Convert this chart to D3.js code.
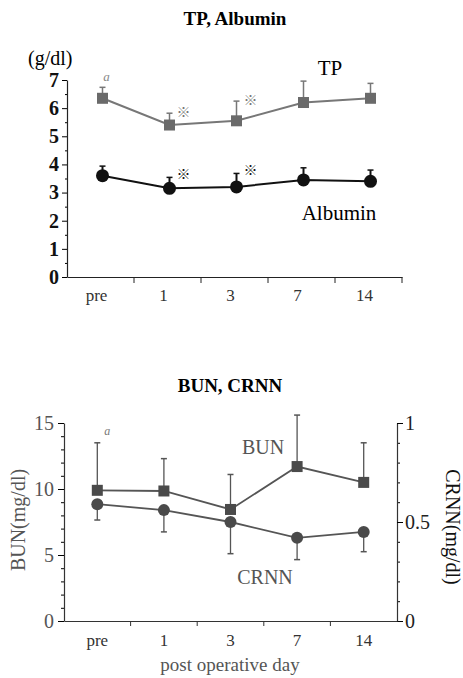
<!DOCTYPE html>
<html>
<head>
<meta charset="utf-8">
<script src="https://cdn.jsdelivr.net/npm/d3@7"></script>
<style>
  body { margin: 0; background: #fff; }
  svg text { font-family: "Liberation Serif", "Times New Roman", serif; }
</style>
</head>
<body>
<svg id="chart" width="463" height="678"></svg>
<script>
// ---- data ----
const days = ['pre', '1', '3', '7', '14'];

const tpMean   = [6.35, 5.4, 5.55, 6.2, 6.35];
const tpUpper  = [6.74, 5.82, 6.25, 6.96, 6.88];
const albMean  = [3.6, 3.15, 3.2, 3.45, 3.4];
const albUpper = [3.94, 3.54, 3.68, 3.88, 3.8];

const bunMean   = [9.9, 9.85, 8.45, 11.7, 10.5];
const bunUpper  = [13.5, 12.3, 11.1, 15.6, 13.5];
const crnnMean  = [0.59, 0.56, 0.5, 0.42, 0.45];
const crnnLower = [0.51, 0.45, 0.34, 0.31, 0.35];

const sigDays = ['1', '3'];   // days marked with ※

const tpTicks   = [0, 1, 2, 3, 4, 5, 6, 7];
const bunTicks  = [0, 5, 10, 15];
const crnnTicks = [0, 0.5, 1];

const svg = d3.select('#chart');

function rows(means, bars) {
    return days.map((d, i) => ({day: d, v: means[i], e: bars[i]}));
}

// ================= top panel: TP, Albumin =================
const box1 = {left: 67, right: 402, top: 80, bottom: 277};
const x1 = d3.scaleBand().domain(days).range([box1.left, box1.right]);
const y1 = d3.scaleLinear().domain([0, 7]).range([box1.bottom, box1.top]);
const cx1 = d => x1(d) + x1.bandwidth() / 2 + 2;

svg.append('text')
    .attr('x', 235).attr('y', 25)
    .attr('text-anchor', 'middle')
    .style('font-size', '19px').style('font-weight', 'bold')
    .text('TP, Albumin');

// minor ticks every 0.5
const y1Minor = svg.append('g')
    .attr('transform', `translate(${box1.left},0)`)
    .call(d3.axisLeft(y1).tickValues(d3.range(0.5, 7, 1)).tickSize(2).tickFormat(''));
y1Minor.select('.domain').remove();

const y1Axis = svg.append('g')
    .attr('transform', `translate(${box1.left},0)`)
    .call(d3.axisLeft(y1).tickValues(tpTicks).tickFormat(d3.format('d'))
        .tickSize(5).tickSizeOuter(0).tickPadding(3));
y1Axis.selectAll('text')
    .style('font-family', '"Liberation Serif", serif')
    .style('font-size', '20px').style('font-weight', 'bold').attr('fill', '#111');

const x1Axis = svg.append('g')
    .attr('transform', `translate(0,${box1.bottom})`)
    .call(d3.axisBottom(x1).tickSize(0).tickPadding(12));
x1Axis.selectAll('text')
    .style('font-family', '"Liberation Serif", serif')
    .style('font-size', '17px').attr('fill', '#333')
    .attr('dx', -4);
// boundary ticks
svg.append('g').selectAll('line')
    .data(days.slice(1).map(d => x1(d)).concat([box1.right]))
    .join('line')
    .attr('x1', d => d).attr('x2', d => d)
    .attr('y1', box1.bottom).attr('y2', box1.bottom + 6)
    .attr('stroke', '#222');
svg.selectAll('.domain').attr('stroke', '#222').attr('stroke-width', 1.2);

svg.append('text')
    .attr('x', 28).attr('y', 65)
    .style('font-size', '20px').text('(g/dl)');

function drawSeries(g, data, xs, ys, opts) {
    const line = d3.line().x(d => xs(d.day)).y(d => ys(d.v));
    g.selectAll('.err')
        .data(data).join('line')
        .attr('class', 'err')
        .attr('x1', d => xs(d.day)).attr('x2', d => xs(d.day))
        .attr('y1', d => ys(d.v)).attr('y2', d => ys(d.e))
        .attr('stroke', opts.color).attr('stroke-width', opts.errWidth);
    g.selectAll('.cap')
        .data(data).join('line')
        .attr('class', 'cap')
        .attr('x1', d => xs(d.day) - 3).attr('x2', d => xs(d.day) + 3)
        .attr('y1', d => ys(d.e)).attr('y2', d => ys(d.e))
        .attr('stroke', opts.color).attr('stroke-width', 1.5);
    g.append('path')
        .attr('d', line(data))
        .attr('fill', 'none')
        .attr('stroke', opts.color).attr('stroke-width', opts.lineWidth);
    if (opts.shape === 'square') {
        g.selectAll('rect')
            .data(data).join('rect')
            .attr('x', d => xs(d.day) - opts.size / 2)
            .attr('y', d => ys(d.v) - opts.size / 2)
            .attr('width', opts.size).attr('height', opts.size)
            .attr('fill', opts.fill);
    } else {
        g.selectAll('circle')
            .data(data).join('circle')
            .attr('cx', d => xs(d.day)).attr('cy', d => ys(d.v))
            .attr('r', opts.size / 2)
            .attr('fill', opts.fill);
    }
}

const tpData = rows(tpMean, tpUpper);
const albData = rows(albMean, albUpper);

drawSeries(svg.append('g'), tpData, cx1, y1,
    {color: '#777', fill: '#6a6a6a', shape: 'square', size: 11, lineWidth: 2, errWidth: 1.5});
drawSeries(svg.append('g'), albData, cx1, y1,
    {color: '#111', fill: '#111', shape: 'circle', size: 13, lineWidth: 2, errWidth: 2});

// significance marks
svg.append('g').selectAll('text')
    .data(tpData.filter(d => sigDays.includes(d.day)))
    .join('text')
    .attr('x', d => cx1(d.day) + 14).attr('y', d => y1(d.e) + 4)
    .attr('text-anchor', 'middle')
    .style('font-family', '"Noto Sans CJK JP", sans-serif')
    .style('font-size', '14px').style('font-weight', 'bold').attr('fill', '#777')
    .text('※');
svg.append('g').selectAll('text')
    .data(albData.filter(d => sigDays.includes(d.day)))
    .join('text')
    .attr('x', d => cx1(d.day) + 14).attr('y', d => y1(d.e) + 2)
    .attr('text-anchor', 'middle')
    .style('font-family', '"Noto Sans CJK JP", sans-serif')
    .style('font-size', '14px').style('font-weight', 'bold').attr('fill', '#111')
    .text('※');

svg.append('text')
    .attr('x', cx1('pre') + 4).attr('y', y1(tpUpper[0]) - 6)
    .attr('text-anchor', 'middle')
    .style('font-size', '13px').style('font-style', 'italic').attr('fill', '#888')
    .text('a');

svg.append('text')
    .attr('x', 330).attr('y', 75)
    .attr('text-anchor', 'middle')
    .style('font-size', '21px').text('TP');
svg.append('text')
    .attr('x', 339).attr('y', 220)
    .attr('text-anchor', 'middle')
    .style('font-size', '21px').text('Albumin');

// ================= bottom panel: BUN, CRNN =================
const box2 = {left: 64, right: 397, top: 423, bottom: 621};
const grey = '#555';
const x2 = d3.scaleBand().domain(days).range([box2.left, box2.right]);
const yL = d3.scaleLinear().domain([0, 15]).range([box2.bottom, box2.top]);
const yR = d3.scaleLinear().domain([0, 1]).range([box2.bottom, box2.top]);
const cx2 = d => x2(d) + x2.bandwidth() / 2;

svg.append('text')
    .attr('x', 230).attr('y', 392)
    .attr('text-anchor', 'middle')
    .style('font-size', '19px').style('font-weight', 'bold')
    .text('BUN, CRNN');

const bot_g = svg.append('g');

const yLMinor = bot_g.append('g')
    .attr('transform', `translate(${box2.left},0)`)
    .call(d3.axisLeft(yL).tickValues(d3.range(1, 15, 1)).tickSize(3).tickFormat(''));
yLMinor.select('.domain').remove();
const yLAxis = bot_g.append('g')
    .attr('transform', `translate(${box2.left},0)`)
    .call(d3.axisLeft(yL).tickValues(bunTicks).tickSize(6).tickSizeOuter(0).tickPadding(4));
yLAxis.selectAll('text')
    .style('font-family', '"Liberation Serif", serif')
    .style('font-size', '20px').attr('fill', grey);

const yRMinor = bot_g.append('g')
    .attr('transform', `translate(${box2.right},0)`)
    .call(d3.axisRight(yR).tickValues(d3.range(0.1, 1, 0.1)).tickSize(3).tickFormat(''));
yRMinor.select('.domain').remove();
const yRAxis = bot_g.append('g')
    .attr('transform', `translate(${box2.right},0)`)
    .call(d3.axisRight(yR).tickValues(crnnTicks).tickSize(6).tickSizeOuter(0).tickPadding(2)
        .tickFormat(d3.format('')));
yRAxis.selectAll('text')
    .style('font-family', '"Liberation Serif", serif')
    .style('font-size', '20px').attr('fill', '#222');

const x2Axis = bot_g.append('g')
    .attr('transform', `translate(0,${box2.bottom})`)
    .call(d3.axisBottom(x2).tickSize(0).tickPadding(13));
x2Axis.selectAll('text')
    .style('font-family', '"Liberation Serif", serif')
    .style('font-size', '17px').attr('fill', '#333');
bot_g.append('g').selectAll('line')
    .data(days.slice(1).map(d => x2(d)))
    .join('line')
    .attr('x1', d => d).attr('x2', d => d)
    .attr('y1', box2.bottom).attr('y2', box2.bottom + 5)
    .attr('stroke', '#333');
bot_g.selectAll('.domain').attr('stroke', '#333').attr('stroke-width', 1.2);

const bunData = rows(bunMean, bunUpper);
const crnnData = rows(crnnMean, crnnLower);

drawSeries(bot_g.append('g'), crnnData, cx2, yR,
    {color: grey, fill: '#4a4a4a', shape: 'circle', size: 12, lineWidth: 1.8, errWidth: 1.3});
drawSeries(bot_g.append('g'), bunData, cx2, yL,
    {color: grey, fill: '#4a4a4a', shape: 'square', size: 11, lineWidth: 1.8, errWidth: 1.3});

bot_g.append('text')
    .attr('x', cx2('pre') + 10).attr('y', yL(bunUpper[0]) - 8)
    .attr('text-anchor', 'middle')
    .style('font-size', '12px').style('font-style', 'italic').attr('fill', '#777')
    .text('a');

bot_g.append('text')
    .attr('x', 263).attr('y', 454)
    .attr('text-anchor', 'middle').attr('fill', grey)
    .style('font-size', '20px').text('BUN');
bot_g.append('text')
    .attr('x', 265).attr('y', 584)
    .attr('text-anchor', 'middle').attr('fill', grey)
    .style('font-size', '20px').text('CRNN');

bot_g.append('text')
    .attr('transform', 'translate(25,520) rotate(-90)')
    .attr('text-anchor', 'middle').attr('fill', grey)
    .style('font-size', '20px').text('BUN(mg/dl)');
bot_g.append('text')
    .attr('transform', 'translate(446,527) rotate(90)')
    .attr('text-anchor', 'middle').attr('fill', '#111')
    .style('font-size', '20px').text('CRNN(mg/dl)');

bot_g.append('text')
    .attr('x', 230).attr('y', 671)
    .attr('text-anchor', 'middle').attr('fill', grey)
    .style('font-size', '19px').text('post operative day');
</script>
</body>
</html>
